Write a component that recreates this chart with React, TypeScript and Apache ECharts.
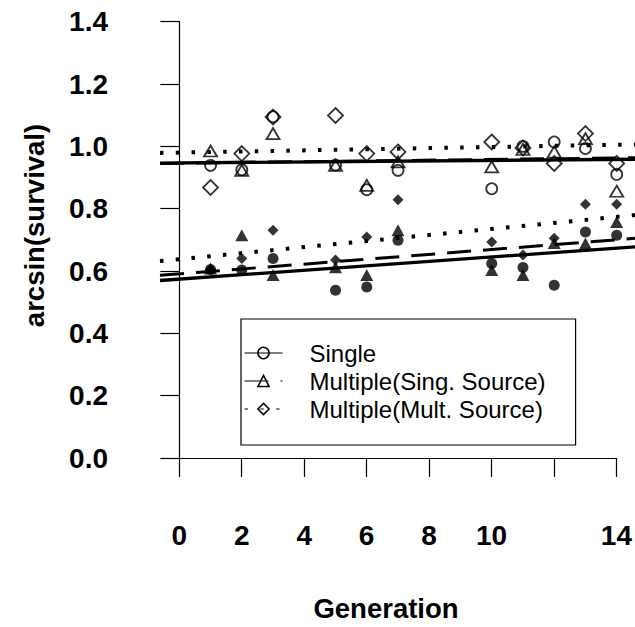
import React, { useEffect, useRef } from "react";
import * as echarts from "echarts";

// ---- data ----
const generations = [1, 2, 3, 5, 6, 7, 10, 11, 12, 13, 14];
const seriesNames = ["Single", "Multiple(Sing. Source)", "Multiple(Mult. Source)"];

// upper group (open symbols)
const singleHigh = [0.939, 0.925, 1.095, 0.94, 0.861, 0.923, 0.864, 1.0, 1.014, 0.993, 0.91];
const singSrcHigh = [0.985, 0.923, 1.041, 0.939, 0.875, 0.95, 0.934, 0.99, 0.982, 1.025, 0.856];
const multSrcHigh = [0.868, 0.977, 1.094, 1.099, 0.977, 0.982, 1.014, 0.995, 0.945, 1.041, 0.945];
// lower group (filled symbols)
const singleLow = [0.605, 0.603, 0.64, 0.538, 0.549, 0.699, 0.624, 0.611, 0.554, 0.725, 0.715];
const singSrcLow = [0.608, 0.715, 0.587, 0.612, 0.587, 0.731, 0.603, 0.587, 0.69, 0.688, 0.757];
const multSrcLow = [0.605, 0.64, 0.731, 0.635, 0.709, 0.829, 0.693, 0.651, 0.705, 0.814, 0.814];

// fitted lines: [intercept, slope]
const fitHigh = [
  [0.947, 0.0008],
  [0.946, 0.0012],
  [0.98, 0.0018],
];
const fitLow = [
  [0.574, 0.0071],
  [0.591, 0.0078],
  [0.638, 0.0097],
];

const xTicks = [0, 2, 4, 6, 8, 10, 12, 14];
const hiddenXLabels = [12];

const FONT = "'Liberation Sans', Arial, Helvetica, sans-serif";

export default function App() {
  const ref = useRef<HTMLDivElement>(null);

  useEffect(() => {
    if (!ref.current) return;
    const chart = echarts.init(ref.current, undefined, { renderer: "svg" });

    // plot-region data limits (wider than the axes, R style)
    const xLo = -0.618;
    const xHi = 14.586;

    const lineTypes: any[] = ["solid", [24, 12], [3.5, 12.3]];
    const lineWidths = [3.3, 3, 4];
    const openSymbols = ["circle", "triangle", "diamond"];
    const openSizes: any[] = [11, [13, 11], 15];
    const filledSizes: any[] = [11, [13, 12], 11];

    const pts = (ys: number[]) => generations.map((g, i) => [g, ys[i]]);
    const fitLine = (f: number[]) => [
      [xLo, f[0] + f[1] * xLo],
      [xHi, f[0] + f[1] * xHi],
    ];

    const series: any[] = [];
    // upper fitted lines first (they define the legend icons)
    [fitHigh, fitLow].forEach((fits) => {
      fits.forEach((f, k) => {
        series.push({
          name: seriesNames[k],
          type: "line",
          xAxisIndex: 1,
          yAxisIndex: 1,
          data: fitLine(f),
          showSymbol: false,
          symbol: openSymbols[k],
          lineStyle: { color: "#000", width: lineWidths[k], type: lineTypes[k], cap: "butt" },
          itemStyle: { color: "rgba(0,0,0,0)", borderColor: "#000", borderWidth: 1.5 },
          silent: true,
          z: 3,
        });
      });
    });
    [singleHigh, singSrcHigh, multSrcHigh].forEach((ys, k) => {
      series.push({
        name: seriesNames[k],
        type: "scatter",
        xAxisIndex: 1,
        yAxisIndex: 1,
        data: pts(ys),
        symbol: openSymbols[k],
        symbolSize: openSizes[k],
        itemStyle: { color: "rgba(0,0,0,0)", borderColor: "#000", borderWidth: 1.8 },
        silent: true,
        z: 4,
      });
    });
    [singleLow, singSrcLow, multSrcLow].forEach((ys, k) => {
      series.push({
        name: seriesNames[k],
        type: "scatter",
        xAxisIndex: 1,
        yAxisIndex: 1,
        data: pts(ys),
        symbol: openSymbols[k],
        symbolSize: filledSizes[k],
        itemStyle: { color: "#000", borderWidth: 0 },
        silent: true,
        z: 4,
      });
    });

    const labelStyle = {
      color: "#000",
      fontFamily: FONT,
      fontWeight: "bold" as const,
      fontSize: 28,
    };

    chart.setOption({
      animation: false,
      backgroundColor: "#fff",
      grid: [
        // axes frame (0..14, 0..1.4)
        { left: 179.3, top: 21.7, width: 437.4, height: 436.3, containLabel: false },
        // data plot region
        { left: 160, top: 21.7, width: 475, height: 436.3, containLabel: false },
      ],
      xAxis: [
        {
          type: "value",
          gridIndex: 0,
          min: 0,
          max: 14,
          interval: 2,
          position: "bottom",
          offset: 19,
          axisLine: { show: true, lineStyle: { color: "#000", width: 1.2 } },
          axisTick: {
            show: true,
            inside: false,
            length: 19,
            lineStyle: { color: "#000", width: 1.2 },
          },
          axisLabel: {
            ...labelStyle,
            margin: 44,
            showMinLabel: true,
            showMaxLabel: true,
            formatter: (v: number) =>
              xTicks.includes(v) && !hiddenXLabels.includes(v) ? String(v) : "",
          },
          splitLine: { show: false },
        },
        {
          type: "value",
          gridIndex: 1,
          min: xLo,
          max: xHi,
          show: false,
        },
      ],
      yAxis: [
        {
          type: "value",
          gridIndex: 0,
          min: 0,
          max: 1.4,
          interval: 0.2,
          position: "left",
          offset: 32.3,
          axisLine: { show: true, lineStyle: { color: "#000", width: 1.2 } },
          axisTick: {
            show: true,
            inside: false,
            length: 19,
            lineStyle: { color: "#000", width: 1.2 },
          },
          axisLabel: {
            ...labelStyle,
            margin: 39,
            showMinLabel: true,
            showMaxLabel: true,
            formatter: (v: number) => v.toFixed(1),
          },
          splitLine: { show: false },
        },
        {
          type: "value",
          gridIndex: 1,
          min: 0,
          max: 1.4,
          show: false,
        },
      ],
      legend: {
        data: seriesNames,
        orient: "vertical",
        left: 241,
        top: 319,
        padding: [22, 30, 24, 3],
        itemWidth: 38,
        itemHeight: 14,
        itemGap: 4,
        borderColor: "#000",
        borderWidth: 1.2,
        borderRadius: 0,
        selectedMode: false,
        itemStyle: { color: "rgba(0,0,0,0)", borderColor: "#000", borderWidth: 1.5 },
        lineStyle: { color: "#000", width: 1, type: "inherit" },
        textStyle: {
          color: "#000",
          fontFamily: FONT,
          fontSize: 24,
          lineHeight: 22,
          padding: [0, 0, 0, 22],
        },
      },
      graphic: [
        {
          type: "text",
          x: 34,
          y: 225.5,
          rotation: Math.PI / 2,
          style: {
            text: "arcsin(survival)",
            font: `bold 27.5px ${FONT}`,
            fill: "#000",
            textAlign: "center",
            textVerticalAlign: "middle",
          },
        },
        {
          type: "text",
          x: 386,
          y: 608,
          style: {
            text: "Generation",
            font: `bold 27.5px ${FONT}`,
            fill: "#000",
            textAlign: "center",
            textVerticalAlign: "middle",
          },
        },
      ],
      series,
    });

    return () => chart.dispose();
  }, []);

  return (
    <div
      ref={ref}
      style={{ position: "fixed", left: 0, top: 0, width: 635, height: 627, background: "#fff" }}
    />
  );
}
